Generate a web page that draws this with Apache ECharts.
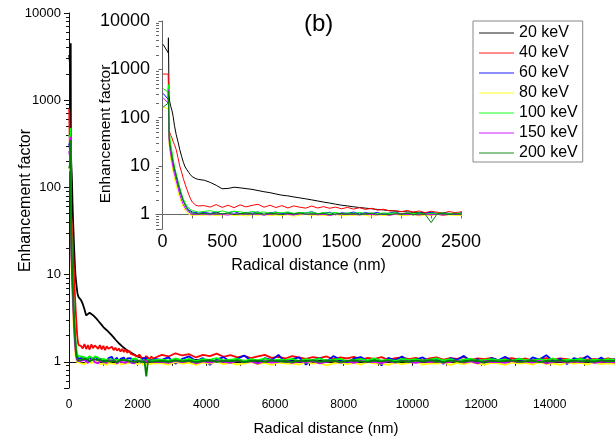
<!DOCTYPE html>
<html><head><meta charset="utf-8">
<script src="https://cdn.jsdelivr.net/npm/echarts@6/dist/echarts.min.js"></script>
<style>html,body{margin:0;padding:0;background:#fff}#c{width:615px;height:442px}</style>
</head><body><div id="c"></div>
<script>
// ---- categories / series ----
const seriesNames = ['20 keV','40 keV','60 keV','80 keV','100 keV','150 keV','200 keV'];
const seriesColors = ['#000000','#ff0000','#0000ff','#ffff00','#00ff00','#cc00ff','#008000'];

// ---- radial distance samples (nm) ----
const xNear = [5,48,50,55,60,70,80,90,100,115,130,145,160,175,190,205,220,235,250,265,280,300];
const xMid = [350,400,450,500,550,600,650,700,750,800,850,
  900,950,1000,1050,1100,1150,1200,1250,1300,1350,1400,
  1450,1500,1550,1600,1650,1700,1750,1800,1850,1900,1950,
  2000,2050,2100,2150,2200,2250,2300,2350,2400,2450,2500];
const xFar = [2700,2900,3100,3300,3500,3700,3900,4100,4300,4500,
  4700,4900,5100,5300,5500,5700,5900,6100,6300,6500,
  6700,6900,7100,7300,7500,7700,7900,8100,8300,8500,
  8700,8900,9100,9300,9500,9700,9900,10100,10300,10500,
  10700,10900,11100,11300,11500,11700,11900,12100,12300,12500,
  12700,12900,13100,13300,13500,13700,13900,14100,14300,14500,
  14700,14900,15100,15300,15500,15700,15900];

// ---- enhancement factor values ----
const ef20Near = [3300,2200,4500,300,220,170,140,105,70,45,32,22,16,12,9.6,8.4,7.4,6.6,6.0,5.7,5.5,5.3];
const ef20Mid = [5.1,4.6,4.0,3.4,3.45,3.65,3.55,3.42,3.3,3.12,2.95,
  2.82,2.65,2.5,2.42,2.3,2.2,2.1,2.0,1.9,1.8,1.72,
  1.63,1.55,1.5,1.44,1.39,1.35,1.31,1.27,1.24,1.2,1.18,
  1.15,1.13,1.11,1.1,1.08,1.07,1.06,1.06,1.05,1.04,1.04];
const ef20Far = [1.03,1.01,1.04,1.0,1.02,1.05,1.01,1.03,0.99,1.02,
  1.04,1.0,1.03,1.01,1.02,0.99,1.03,1.02,1.0,1.04,
  1.01,1.03,0.99,1.02,1.04,1.0,1.02,1.01,1.03,0.99,
  1.02,1.04,1.0,1.01,1.03,0.99,1.02,1.04,1.01,1.0,
  1.03,1.01,1.02,0.99,1.04,1.0,1.02,1.03,1.01,0.99,
  1.02,1.0,1.03,1.01,1.04,0.99,1.02,1.0,1.03,1.01,
  1.02,0.99,1.03,1.01,1.0,1.02,1.01];

const ef40Near = [800,800,830,60,50,43,38,32,28,22,15,10,7.5,5.5,4.2,3.3,2.6,2.1,1.8,1.65,1.55,1.5];
const ef40Mid = [1.52,1.42,1.6,1.4,1.55,1.38,1.58,1.43,1.54,1.62,1.41,
  1.55,1.39,1.52,1.36,1.5,1.41,1.35,1.49,1.36,1.45,1.34,
  1.42,1.31,1.4,1.29,1.38,1.27,1.34,1.23,1.28,1.19,1.18,
  1.14,1.21,1.12,1.18,1.09,1.16,1.11,1.07,1.15,1.09,1.13];
const ef40Far = [1.2,1.15,1.25,1.18,1.22,1.12,1.2,1.16,1.24,1.14,
  1.19,1.12,1.17,1.1,1.15,1.2,1.11,1.14,1.09,1.16,
  1.12,1.08,1.13,1.1,1.15,1.07,1.12,1.09,1.14,1.06,
  1.11,1.08,1.13,1.05,1.1,1.12,1.07,1.11,1.04,1.09,
  1.12,1.06,1.1,1.08,1.13,1.05,1.09,1.07,1.11,1.04,
  1.08,1.1,1.06,1.09,1.03,1.08,1.1,1.05,1.09,1.07,
  1.04,1.1,1.06,1.08,1.05,1.09,1.06];

const ef60Near = [320,240,420,40,30,20,15,11,8.5,6,4.2,3.1,2.4,1.9,1.6,1.4,1.25,1.18,1.12,1.08,1.1,1.06];
const ef60Mid = [1.1,1.05,1.12,1.02,1.08,1.15,1.04,1.1,1.06,1.13,1.0,
  1.08,1.12,1.04,1.09,1.02,1.1,1.07,1.14,1.03,1.06,1.11,
  0.98,1.08,1.05,1.12,1.02,1.09,1.04,1.1,1.0,1.07,1.12,
  1.03,1.06,0.97,1.09,1.04,1.11,1.02,1.07,1.05,0.99,1.08];
const ef60Far = [1.05,1.12,0.95,1.08,1.15,1.02,1.1,0.92,1.06,1.13,
  1.0,1.08,1.18,1.03,0.94,1.1,1.05,1.2,0.98,1.07,
  1.12,0.93,1.04,1.1,1.0,1.16,1.05,0.96,1.09,1.13,
  1.02,1.07,0.91,1.11,1.04,1.15,0.99,1.06,1.12,1.01,
  1.08,0.95,1.1,1.05,1.17,1.0,1.07,0.93,1.11,1.04,
  1.14,1.02,1.09,0.97,1.12,1.06,1.19,1.01,1.08,0.94,
  1.1,1.05,1.16,1.0,1.12,0.96,1.08];

const ef80Near = [170,150,300,30,22,14,10,7.5,5.5,4,2.9,2.2,1.7,1.4,1.2,1.08,1.0,0.97,0.95,0.96,0.98,0.97];
const ef80Mid = [0.96,0.99,0.94,0.98,1.0,0.95,0.97,0.93,0.99,0.96,1.01,
  0.94,0.97,0.95,0.99,0.92,0.97,1.0,0.95,0.98,0.94,0.96,
  1.0,0.93,0.97,0.95,0.99,0.96,0.92,0.98,0.95,0.97,1.01,
  0.94,0.96,0.99,0.93,0.97,0.95,1.0,0.94,0.98,0.96,0.95];
const ef80Far = [0.96,0.93,0.99,0.95,0.97,0.92,0.98,0.95,1.0,0.94,
  0.97,0.93,0.96,0.99,0.94,0.97,0.92,0.98,0.95,0.96,
  0.93,0.99,0.95,0.97,0.91,0.96,0.98,0.94,0.97,0.93,
  0.99,0.95,0.96,0.92,0.98,0.94,0.97,1.0,0.93,0.96,
  0.95,0.98,0.92,0.97,0.94,0.99,0.95,0.93,0.97,0.96,
  0.92,0.98,0.95,0.97,0.93,0.99,0.94,0.96,0.92,0.98,
  0.95,0.97,0.93,0.99,0.94,0.96,0.95];

const ef100Near = [400,340,480,50,45,28,20,14,10,7,5,3.6,2.7,2.1,1.75,1.5,1.35,1.25,1.2,1.15,1.16,1.12];
const ef100Mid = [1.15,1.2,1.12,1.18,1.1,1.16,1.13,1.08,1.15,1.1,1.12,
  1.06,1.11,1.08,1.13,1.05,1.1,1.07,1.12,1.04,1.09,1.06,
  1.1,1.03,1.08,1.05,1.1,1.04,1.07,1.02,1.08,1.05,1.09,
  1.03,1.06,1.04,1.08,1.02,1.06,1.05,1.07,1.03,1.06,1.04];
const ef100Far = [1.06,1.03,1.09,1.04,1.08,1.02,1.07,1.05,1.1,1.03,
  1.06,1.08,1.02,1.07,1.04,1.09,1.03,1.06,1.05,1.08,
  1.02,1.07,1.04,1.09,1.03,1.06,1.08,1.02,1.05,1.07,
  1.04,1.09,1.03,1.06,1.02,1.08,1.05,1.07,1.03,1.06,
  1.09,1.04,1.07,1.02,1.06,1.08,1.03,1.05,1.07,1.04,
  1.06,1.02,1.08,1.05,1.03,1.07,1.04,1.09,1.02,1.06,
  1.05,1.08,1.03,1.06,1.04,1.07,1.05];

const ef150Near = [260,200,380,35,26,17,12.5,9,7,5,3.6,2.6,2.0,1.6,1.35,1.2,1.1,1.05,1.02,1.0,1.03,1.01];
const ef150Mid = [1.02,0.98,1.05,1.0,0.97,1.04,1.01,1.06,0.99,1.03,0.96,
  1.02,1.05,0.99,1.01,0.97,1.04,1.0,1.03,0.98,1.02,0.95,
  1.01,1.04,0.99,1.02,0.97,1.03,1.0,0.98,1.02,0.96,1.01,
  1.03,0.99,1.0,0.97,1.02,0.98,1.01,0.96,1.0,1.02,0.99];
const ef150Far = [1.0,0.97,1.02,0.99,1.03,0.96,1.01,0.98,1.02,1.0,
  0.97,1.03,0.99,1.01,0.95,1.02,0.98,1.0,1.03,0.97,
  1.01,0.99,1.02,0.96,1.0,1.03,0.98,1.01,0.97,1.02,
  0.99,1.0,0.96,1.02,0.98,1.03,1.0,0.97,1.01,0.99,
  1.02,0.97,1.0,1.03,0.98,1.01,0.96,1.02,0.99,1.0,
  0.97,1.02,0.99,1.01,0.98,1.03,0.96,1.0,1.02,0.98,
  1.01,0.99,1.02,0.97,1.0,1.01,0.98];

const ef200Near = [165,200,350,45,32,22,16,12,9,6.5,4.5,3.3,2.5,1.9,1.55,1.3,1.18,1.1,1.06,1.04,1.05,1.03];
const ef200Mid = [1.05,1.02,1.08,1.03,1.06,1.0,1.04,1.07,1.02,1.05,1.01,
  1.06,1.03,1.0,1.05,1.02,1.07,1.01,1.04,1.02,1.06,0.99,
  1.03,1.05,1.01,1.04,1.0,1.03,1.06,1.01,1.02,0.99,1.04,
  1.02,1.05,1.0,1.03,1.01,0.68,1.02,1.04,1.0,1.03,1.01];
const ef200Far = [1.02,1.0,1.04,1.01,1.03,0.99,1.02,1.04,1.0,1.03,
  1.01,1.04,0.99,1.02,1.03,1.0,1.04,1.01,1.02,0.99,
  1.03,1.01,1.04,1.0,1.02,1.03,0.99,1.02,1.04,1.01,
  1.0,1.03,1.01,1.04,0.99,1.02,1.0,1.03,1.01,1.04,
  1.02,0.99,1.03,1.01,1.0,1.04,1.02,0.99,1.03,1.01,
  1.02,1.04,1.0,1.01,1.03,0.99,1.02,1.01,1.04,1.0,
  1.03,1.01,1.02,1.0,1.04,1.01,1.02];

// ---- tick labels ----
const mainXLabels = [0,2000,4000,6000,8000,10000,12000,14000];
const mainXTicks = [0,1000,2000,3000,4000,5000,6000,7000,8000,9000,10000,11000,12000,13000,14000,15000];
const insetXLabels = [0,500,1000,1500,2000,2500];
const insetXTicks = [0,250,500,750,1000,1250,1500,1750,2000,2250,2500];
const yLabels = [1,10,100,1000,10000];
const yMinorTicks = [0.5,0.6,0.7,0.8,0.9,2,3,4,5,6,7,8,9,20,30,40,50,60,70,80,90,
  200,300,400,500,600,700,800,900,2000,3000,4000,5000,6000,7000,8000,9000];

// ---- build ----
const X = xNear.concat(xMid, xFar);
const allValues = [
  ef20Near.concat(ef20Mid, ef20Far),
  ef40Near.concat(ef40Mid, ef40Far),
  ef60Near.concat(ef60Mid, ef60Far),
  ef80Near.concat(ef80Mid, ef80Far),
  ef100Near.concat(ef100Mid, ef100Far),
  ef150Near.concat(ef150Mid, ef150Far),
  ef200Near.concat(ef200Mid, ef200Far)
];
const FONT = '"Liberation Sans", Arial, sans-serif';
const yFmt = v => {
  for (const t of yLabels) { if (Math.abs(v - t) / t < 1e-6) return String(t); }
  return '';
};
const xFmt = v => String(Math.round(v));
const minorLog = yMinorTicks.map(v => Math.log10(v));

const series = [];
allValues.forEach((vals, i) => {
  const data = X.map((x, j) => [x, vals[j]]);
  series.push({
    name: seriesNames[i], type: 'line', xAxisIndex: 0, yAxisIndex: 0,
    data: data, symbol: 'none', color: seriesColors[i],
    lineStyle: { width: 1.8, color: seriesColors[i] }, animation: false, z: 2
  });
});
allValues.forEach((vals, i) => {
  const data = X.map((x, j) => [x, vals[j]]);
  series.push({
    name: seriesNames[i], type: 'line', xAxisIndex: 1, yAxisIndex: 2,
    data: data, symbol: 'none', color: seriesColors[i], clip: true,
    lineStyle: { width: 1, color: seriesColors[i] }, animation: false, z: 2
  });
});

const mainAxisColor = '#111';
const insetAxisColor = '#666';

const option = {
  animation: false,
  backgroundColor: '#fff',
  textStyle: { fontFamily: FONT },
  grid: [
    { left: 69, top: 13, right: 0, bottom: 54, outerBoundsMode: 'none' },
    { left: 156, top: 21, width: 305, height: 208, outerBoundsMode: 'none' }
  ],
  xAxis: [
    {
      type: 'value', gridIndex: 0, min: 0, max: 15900,
      name: 'Radical distance (nm)', nameLocation: 'middle', nameGap: 33, nameMoveOverlap: false,
      nameTextStyle: { fontSize: 15, color: '#000', fontFamily: FONT, padding: [0, 32, 0, 0] },
      axisLine: { show: true, lineStyle: { color: mainAxisColor, width: 1 } },
      axisTick: { show: true, length: 4, customValues: mainXTicks, lineStyle: { color: mainAxisColor } },
      axisLabel: { customValues: mainXLabels, formatter: xFmt, fontSize: 12, color: '#000', margin: 11, fontFamily: FONT },
      splitLine: { show: false }
    },
    {
      type: 'value', gridIndex: 1, min: -54, max: 2500,
      name: 'Radical distance (nm)', nameLocation: 'middle', nameGap: 29, nameMoveOverlap: false,
      nameTextStyle: { fontSize: 16, color: '#000', fontFamily: FONT },
      axisLine: { show: true, lineStyle: { color: insetAxisColor, width: 1 } },
      axisTick: { show: true, length: 4, customValues: insetXTicks, lineStyle: { color: insetAxisColor } },
      axisLabel: { customValues: insetXLabels, formatter: xFmt, fontSize: 18, color: '#000', margin: 4, fontFamily: FONT },
      splitLine: { show: false }
    }
  ],
  yAxis: [
    {
      type: 'log', gridIndex: 0, min: 0.5, max: 10000, position: 'left',
      name: 'Enhancement factor', nameLocation: 'middle', nameGap: 35, nameMoveOverlap: false,
      nameTextStyle: { fontSize: 16, color: '#000', fontFamily: FONT },
      axisLine: { show: true, lineStyle: { color: mainAxisColor, width: 1 } },
      axisTick: { show: true, length: 5, lineStyle: { color: mainAxisColor } },
      axisLabel: { formatter: yFmt, fontSize: 13, color: '#000', margin: 8, fontFamily: FONT },
      splitLine: { show: false }, minorTick: { show: false }
    },
    {
      type: 'value', gridIndex: 0, min: Math.log10(0.5), max: 4, position: 'left', offset: 0,
      axisLine: { show: false }, axisLabel: { show: false }, splitLine: { show: false },
      axisTick: { show: true, length: 3, customValues: minorLog, lineStyle: { color: mainAxisColor } }
    },
    {
      type: 'log', gridIndex: 1, min: 0.5, max: 10000, position: 'left',
      name: 'Enhancement factor', nameLocation: 'middle', nameGap: 42, nameMoveOverlap: false,
      nameTextStyle: { fontSize: 15.5, color: '#000', fontFamily: FONT, padding: [0, 18, 0, 0] },
      axisLine: { show: true, lineStyle: { color: insetAxisColor, width: 1 } },
      axisTick: { show: true, length: 4, lineStyle: { color: insetAxisColor } },
      axisLabel: { formatter: yFmt, fontSize: 18, color: '#000', margin: 6, fontFamily: FONT },
      splitLine: { show: false }, minorTick: { show: false }
    },
    {
      type: 'value', gridIndex: 1, min: Math.log10(0.5), max: 4, position: 'left', offset: 0,
      axisLine: { show: false }, axisLabel: { show: false }, splitLine: { show: false },
      axisTick: { show: true, inside: true, length: 3, customValues: minorLog, lineStyle: { color: insetAxisColor } }
    }
  ],
  legend: {
    data: seriesNames, orient: 'vertical', left: 473, top: 21,
    padding: [4, 5, 1, 6], itemGap: 4, itemWidth: 35, itemHeight: 1.5, icon: 'rect',
    borderColor: '#888', borderWidth: 1, backgroundColor: '#fff',
    itemStyle: { opacity: 0.6 },
    textStyle: { fontSize: 16, color: '#000', fontFamily: FONT, lineHeight: 16 },
    selectedMode: false
  },
  graphic: [
    { type: 'text', left: 304, top: 12, style: { text: '(b)', fontSize: 24, fill: '#000', font: '24px "Liberation Sans", Arial, sans-serif' } }
  ],
  series: series
};

const chart = echarts.init(document.getElementById('c'), null, { renderer: 'canvas' });
chart.setOption(option);
</script>
</body></html>
